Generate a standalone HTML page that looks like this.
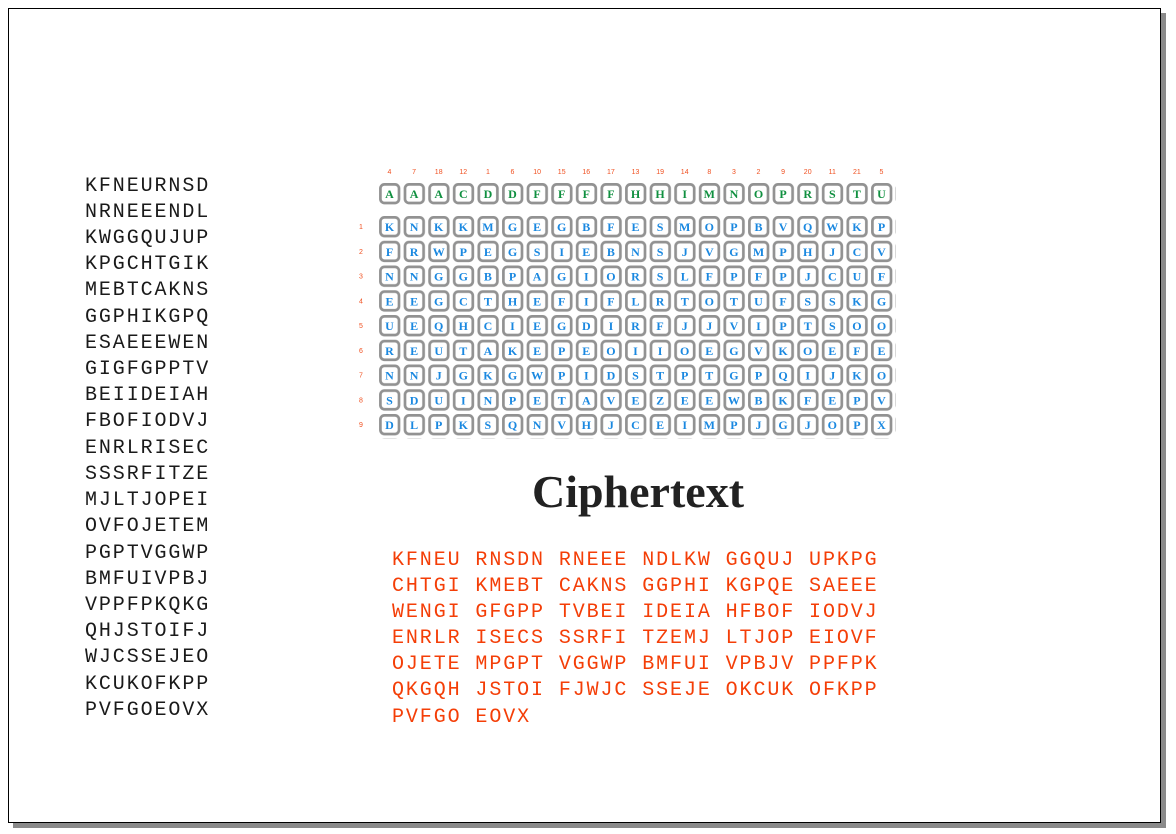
<!DOCTYPE html>
<html><head><meta charset="utf-8"><style>
html,body{margin:0;padding:0;background:#fff;}
svg{display:block;}
</style></head><body>
<svg width="1176" height="834" xmlns="http://www.w3.org/2000/svg">
<defs>
<pattern id="bx" patternUnits="userSpaceOnUse" x="379" y="216" width="24.6" height="24.75">
<rect x="1.4" y="1.4" width="18.6" height="18.6" rx="4" fill="#fff" stroke="#929292" stroke-width="2.7"/>
</pattern>
<pattern id="bh" patternUnits="userSpaceOnUse" x="379" y="183" width="24.6" height="30">
<rect x="1.4" y="1.4" width="18.6" height="18.6" rx="4" fill="#fff" stroke="#929292" stroke-width="2.7"/>
</pattern>
</defs>
<rect x="13" y="13" width="1153" height="815" fill="#8a8a8a"/>
<rect x="8.5" y="8.5" width="1152" height="814" fill="#fff" stroke="#000" stroke-width="1"/>
<g font-family="Liberation Mono, monospace" font-size="20" fill="#1a1a1a" letter-spacing="1.9">
<text x="85" y="191">KFNEURNSD</text>
<text x="85" y="217">NRNEEENDL</text>
<text x="85" y="243">KWGGQUJUP</text>
<text x="85" y="269">KPGCHTGIK</text>
<text x="85" y="295">MEBTCAKNS</text>
<text x="85" y="322">GGPHIKGPQ</text>
<text x="85" y="348">ESAEEEWEN</text>
<text x="85" y="374">GIGFGPPTV</text>
<text x="85" y="400">BEIIDEIAH</text>
<text x="85" y="426">FBOFIODVJ</text>
<text x="85" y="453">ENRLRISEC</text>
<text x="85" y="479">SSSRFITZE</text>
<text x="85" y="505">MJLTJOPEI</text>
<text x="85" y="531">OVFOJETEM</text>
<text x="85" y="558">PGPTVGGWP</text>
<text x="85" y="584">BMFUIVPBJ</text>
<text x="85" y="610">VPPFPKQKG</text>
<text x="85" y="636">QHJSTOIFJ</text>
<text x="85" y="662">WJCSSEJEO</text>
<text x="85" y="689">KCUKOFKPP</text>
<text x="85" y="715">PVFGOEOVX</text>
</g>
<text x="638" y="507" text-anchor="middle" font-family="Liberation Serif, serif" font-weight="bold" font-size="46" fill="#222">Ciphertext</text>
<g font-family="Liberation Mono, monospace" font-size="20" fill="#f43e07" letter-spacing="1.9">
<text x="392" y="565" xml:space="preserve">KFNEU RNSDN RNEEE NDLKW GGQUJ UPKPG</text>
<text x="392" y="591" xml:space="preserve">CHTGI KMEBT CAKNS GGPHI KGPQE SAEEE</text>
<text x="392" y="617" xml:space="preserve">WENGI GFGPP TVBEI IDEIA HFBOF IODVJ</text>
<text x="392" y="643" xml:space="preserve">ENRLR ISECS SSRFI TZEMJ LTJOP EIOVF</text>
<text x="392" y="669" xml:space="preserve">OJETE MPGPT VGGWP BMFUI VPBJV PPFPK</text>
<text x="392" y="695" xml:space="preserve">QKGQH JSTOI FJWJC SSEJE OKCUK OFKPP</text>
<text x="392" y="722" xml:space="preserve">PVFGO EOVX</text>
</g>
<rect x="379" y="183" width="517" height="24" fill="url(#bh)"/>
<rect x="379" y="216" width="517" height="223" fill="url(#bx)"/>
<g font-family="Liberation Sans, sans-serif" font-size="7" fill="#f05020" text-anchor="middle">
<text y="174"><tspan x="389.5">4</tspan><tspan x="414.1">7</tspan><tspan x="438.7">18</tspan><tspan x="463.3">12</tspan><tspan x="487.9">1</tspan><tspan x="512.5">6</tspan><tspan x="537.1">10</tspan><tspan x="561.7">15</tspan><tspan x="586.3">16</tspan><tspan x="610.9">17</tspan><tspan x="635.5">13</tspan><tspan x="660.1">19</tspan><tspan x="684.7">14</tspan><tspan x="709.3">8</tspan><tspan x="733.9">3</tspan><tspan x="758.5">2</tspan><tspan x="783.1">9</tspan><tspan x="807.7">20</tspan><tspan x="832.3">11</tspan><tspan x="856.9">21</tspan><tspan x="881.5">5</tspan></text>
<text x="361" y="229">1</text>
<text x="361" y="253.75">2</text>
<text x="361" y="278.5">3</text>
<text x="361" y="303.25">4</text>
<text x="361" y="328">5</text>
<text x="361" y="352.75">6</text>
<text x="361" y="377.5">7</text>
<text x="361" y="402.25">8</text>
<text x="361" y="427">9</text>
</g>
<g font-family="Liberation Serif, serif" font-weight="bold" font-size="12" text-anchor="middle" fill="#1a88e0">
<text fill="#109040" y="198.2" x="389.5 414.1 438.7 463.3 487.9 512.5 537.1 561.7 586.3 610.9 635.5 660.1 684.7 709.3 733.9 758.5 783.1 807.7 832.3 856.9 881.5">AAACDDFFFFHHIMNOPRSTU</text>
<text y="231.2" x="389.5 414.1 438.7 463.3 487.9 512.5 537.1 561.7 586.3 610.9 635.5 660.1 684.7 709.3 733.9 758.5 783.1 807.7 832.3 856.9 881.5">KNKKMGEGBFESMOPBVQWKP</text>
<text y="255.95" x="389.5 414.1 438.7 463.3 487.9 512.5 537.1 561.7 586.3 610.9 635.5 660.1 684.7 709.3 733.9 758.5 783.1 807.7 832.3 856.9 881.5">FRWPEGSIEBNSJVGMPHJCV</text>
<text y="280.7" x="389.5 414.1 438.7 463.3 487.9 512.5 537.1 561.7 586.3 610.9 635.5 660.1 684.7 709.3 733.9 758.5 783.1 807.7 832.3 856.9 881.5">NNGGBPAGIORSLFPFPJCUF</text>
<text y="305.45" x="389.5 414.1 438.7 463.3 487.9 512.5 537.1 561.7 586.3 610.9 635.5 660.1 684.7 709.3 733.9 758.5 783.1 807.7 832.3 856.9 881.5">EEGCTHEFIFLRTOTUFSSKG</text>
<text y="330.2" x="389.5 414.1 438.7 463.3 487.9 512.5 537.1 561.7 586.3 610.9 635.5 660.1 684.7 709.3 733.9 758.5 783.1 807.7 832.3 856.9 881.5">UEQHCIEGDIRFJJVIPTSOO</text>
<text y="354.95" x="389.5 414.1 438.7 463.3 487.9 512.5 537.1 561.7 586.3 610.9 635.5 660.1 684.7 709.3 733.9 758.5 783.1 807.7 832.3 856.9 881.5">REUTAKEPEOIIOEGVKOEFE</text>
<text y="379.7" x="389.5 414.1 438.7 463.3 487.9 512.5 537.1 561.7 586.3 610.9 635.5 660.1 684.7 709.3 733.9 758.5 783.1 807.7 832.3 856.9 881.5">NNJGKGWPIDSTPTGPQIJKO</text>
<text y="404.45" x="389.5 414.1 438.7 463.3 487.9 512.5 537.1 561.7 586.3 610.9 635.5 660.1 684.7 709.3 733.9 758.5 783.1 807.7 832.3 856.9 881.5">SDUINPETAVEZEEWBKFEPV</text>
<text y="429.2" x="389.5 414.1 438.7 463.3 487.9 512.5 537.1 561.7 586.3 610.9 635.5 660.1 684.7 709.3 733.9 758.5 783.1 807.7 832.3 856.9 881.5">DLPKSQNVHJCEIMPJGJOPX</text>
</g>
</svg>
</body></html>
